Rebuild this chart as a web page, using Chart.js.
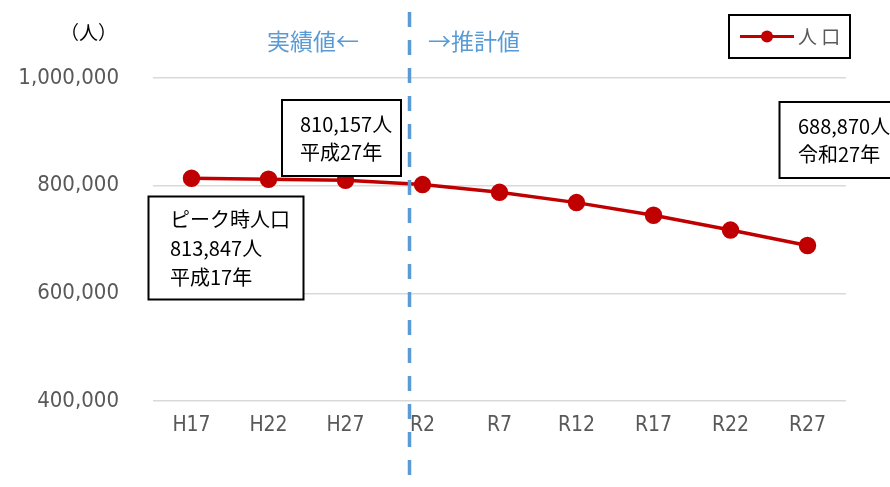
<!DOCTYPE html>
<html>
<head>
<meta charset="utf-8">
<script src="https://cdn.jsdelivr.net/npm/chart.js@4"></script>
<style>
html,body{margin:0;padding:0;background:#fff;}
#wrap{position:relative;width:890px;height:487px;}
</style>
</head>
<body>
<div id="wrap"><canvas id="c" width="890" height="487"></canvas></div>
<script>
const categories = ['H17','H22','H27','R2','R7','R12','R17','R22','R27'];
const population = [813847, 812000, 810157, 802000, 787600, 768500, 745000, 717500, 688870];
const seriesName = '人口';
const yMin = 400000, yMax = 1000000, yStep = 200000;
const unitLabel = '（人）';
const actualLabel = '実績値←';
const forecastLabel = '→推計値';
const notes = [
  {lines:['ピーク時人口','813,847人','平成17年']},
  {lines:['810,157人','平成27年']},
  {lines:['688,870人','令和27年']}
];

const JP = '"Noto Sans CJK JP", "Noto Sans", sans-serif';
const NUM = '"DejaVu Sans Condensed", "Liberation Sans", sans-serif';

const decor = {
  id: 'decor',
  afterDraw(chart) {
    const ctx = chart.ctx;
    const xs = chart.scales.x;
    ctx.save();
    // unit label
    ctx.fillStyle = '#000';
    ctx.font = '19px ' + JP;
    ctx.textBaseline = 'middle';
    ctx.textAlign = 'left';
    ctx.fillText(unitLabel, 60, 33);
    // header labels
    ctx.fillStyle = '#5B9BD5';
    ctx.font = '23px ' + JP;
    ctx.fillText(actualLabel, 267, 41);
    ctx.fillText(forecastLabel, 428, 41);

    // legend
    ctx.strokeStyle = '#000';
    ctx.lineWidth = 2;
    ctx.strokeRect(729, 15, 121, 43);
    ctx.strokeStyle = '#C00000';
    ctx.lineWidth = 3;
    ctx.beginPath(); ctx.moveTo(740, 36.5); ctx.lineTo(794, 36.5); ctx.stroke();
    ctx.fillStyle = '#C00000';
    ctx.beginPath(); ctx.arc(767, 36.5, 6, 0, Math.PI*2); ctx.fill();
    ctx.fillStyle = '#595959';
    ctx.font = '19px ' + JP;
    ctx.fillText(chart.data.datasets[0].label.split('').join(' '), 798, 37);

    // annotation boxes
    const boxes = [
      {x:148.5, y:196.5, w:155, h:103, tx:170, ty:[219,248,277], n:notes[0]},
      {x:282, y:100, w:119, h:76, tx:300, ty:[124,152], n:notes[1]},
      {x:779.5, y:102, w:120, h:76, tx:798, ty:[126,154], n:notes[2]}
    ];
    ctx.font = '20px ' + JP;
    boxes.forEach(b => {
      ctx.fillStyle = '#fff';
      ctx.fillRect(b.x, b.y, b.w, b.h);
      ctx.strokeStyle = '#000';
      ctx.lineWidth = 2;
      ctx.strokeRect(b.x, b.y, b.w, b.h);
      ctx.fillStyle = '#000';
      b.n.lines.forEach((t, i) => ctx.fillText(t, b.tx, b.ty[i]));
    });

    // dashed divider between actual and projected values
    const step = xs.getPixelForValue(3) - xs.getPixelForValue(2);
    const dx = Math.round(xs.getPixelForValue(2) + step * 0.82) + 0.5;
    ctx.strokeStyle = '#5B9BD5';
    ctx.lineWidth = 3.5;
    ctx.setLineDash([15, 13]);
    ctx.beginPath(); ctx.moveTo(dx, 12); ctx.lineTo(dx, 476); ctx.stroke();
    ctx.restore();
  }
};

new Chart(document.getElementById('c'), {
  type: 'line',
  data: {
    labels: categories,
    datasets: [{
      label: seriesName,
      data: population,
      borderColor: '#C00000',
      backgroundColor: '#C00000',
      borderWidth: 3.5,
      pointRadius: 7,
      pointHoverRadius: 7,
      pointBackgroundColor: '#C00000',
      pointBorderColor: '#C00000',
      tension: 0
    }]
  },
  options: {
    responsive: false,
    animation: false,
    events: [],
    layout: { padding: { left: 0, top: 78, right: 44, bottom: 0 } },
    plugins: { legend: { display: false }, tooltip: { enabled: false } },
    scales: {
      x: {
        offset: true,
        grid: { display: false, drawTicks: false },
        border: { display: false },
        ticks: { color: '#595959', font: { family: NUM, size: 21 }, padding: 12, maxRotation: 0 },
        afterFit(s) { s.height = 86; }
      },
      y: {
        min: yMin, max: yMax,
        grid: { color: '#D9D9D9', lineWidth: 1.5, drawTicks: false },
        border: { display: false },
        ticks: {
          stepSize: yStep,
          color: '#595959',
          font: { family: NUM, size: 22 },
          padding: 34,
          callback: v => v.toLocaleString('en-US')
        },
        afterFit(s) { s.width = 153; }
      }
    }
  },
  plugins: [decor]
});
</script>
</body>
</html>
